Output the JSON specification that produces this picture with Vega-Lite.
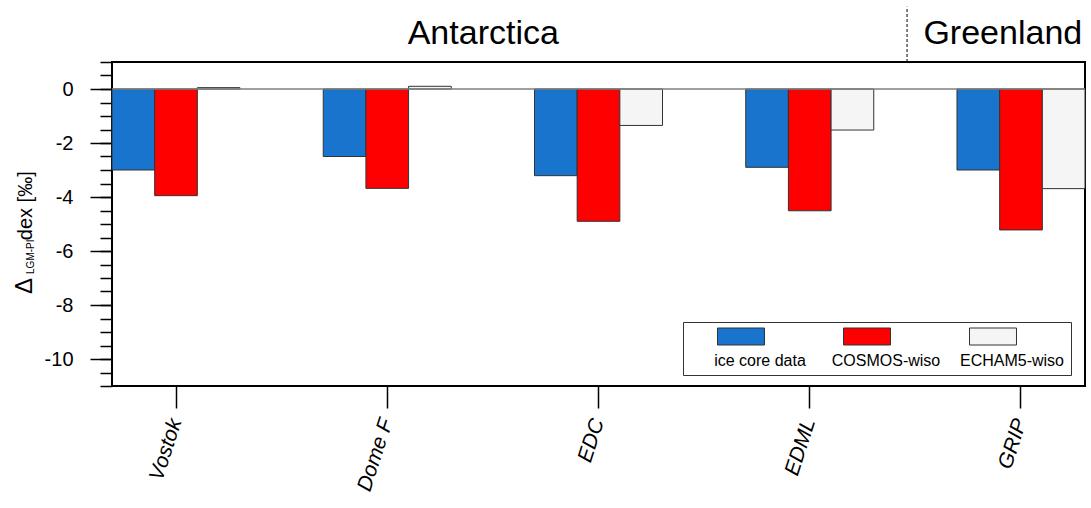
{
  "$schema": "https://vega.github.io/schema/vega-lite/v6.json",
  "width": 973,
  "height": 324,
  "autosize": {"type": "none"},
  "padding": {"left": 112, "top": 62, "right": 6, "bottom": 122},
  "background": "white",
  "config": {
    "font": "Liberation Sans",
    "view": {"stroke": "#000", "strokeWidth": 2},
    "axis": {"grid": false, "domain": false, "tickColor": "#000", "labelColor": "#000", "tickWidth": 1.5, "labelFont": "Liberation Sans"}
  },
  "datasets": {
    "bars": [
      {"site": "Vostok", "model": "ice core data", "value": -3.0},
      {"site": "Vostok", "model": "COSMOS-wiso", "value": -3.95},
      {"site": "Vostok", "model": "ECHAM5-wiso", "value": 0.05},
      {"site": "Dome F", "model": "ice core data", "value": -2.5},
      {"site": "Dome F", "model": "COSMOS-wiso", "value": -3.68},
      {"site": "Dome F", "model": "ECHAM5-wiso", "value": 0.1},
      {"site": "EDC", "model": "ice core data", "value": -3.21},
      {"site": "EDC", "model": "COSMOS-wiso", "value": -4.9},
      {"site": "EDC", "model": "ECHAM5-wiso", "value": -1.35},
      {"site": "EDML", "model": "ice core data", "value": -2.9},
      {"site": "EDML", "model": "COSMOS-wiso", "value": -4.51},
      {"site": "EDML", "model": "ECHAM5-wiso", "value": -1.52},
      {"site": "GRIP", "model": "ice core data", "value": -3.0},
      {"site": "GRIP", "model": "COSMOS-wiso", "value": -5.22},
      {"site": "GRIP", "model": "ECHAM5-wiso", "value": -3.69}
    ]
  },
  "layer": [
    {
      "data": {"name": "bars"},
      "mark": {"type": "bar", "stroke": "#333", "strokeWidth": 1},
      "encoding": {
        "x": {
          "field": "site", "type": "nominal",
          "scale": {"domain": ["Vostok", "Dome F", "EDC", "EDML", "GRIP"], "paddingInner": 0.394, "paddingOuter": 0},
          "axis": {"title": null, "labelAngle": -72, "labelFontSize": 21, "labelFontStyle": "italic", "tickSize": 22, "labelPadding": 11}
        },
        "xOffset": {
          "field": "model", "type": "nominal",
          "scale": {"domain": ["ice core data", "COSMOS-wiso", "ECHAM5-wiso"], "paddingInner": 0, "paddingOuter": 0}
        },
        "y": {
          "field": "value", "type": "quantitative",
          "scale": {"domain": [-11, 1], "nice": false, "zero": false},
          "axis": {"orient": "left", "title": null, "labels": false, "tickSize": 12,
            "values": [-11, -10.5, -10, -9.5, -9, -8.5, -8, -7.5, -7, -6.5, -6, -5.5, -5, -4.5, -4, -3.5, -3, -2.5, -2, -1.5, -1, -0.5, 0, 0.5, 1]}
        },
        "color": {
          "field": "model", "type": "nominal",
          "scale": {"domain": ["ice core data", "COSMOS-wiso", "ECHAM5-wiso"], "range": ["#1874CD", "#FF0000", "#F5F5F5"]},
          "legend": {
            "orient": "none", "legendX": 571, "legendY": 260,
            "direction": "horizontal", "columns": 3, "title": null,
            "symbolType": "M-0.723,-1.015H0.723V-0.492H-0.723Z", "symbolSize": 4225,
            "symbolStrokeColor": "#333", "symbolStrokeWidth": 1, "symbolOpacity": 1,
            "symbolOffset": 19,
            "labelAlign": "center", "labelOffset": -14, "labelFontSize": 16, "labelColor": "#000",
            "strokeColor": "#333", "fillColor": "white", "padding": 6,
            "gridAlign": "all", "columnPadding": 0
          }
        }
      }
    },
    {
      "data": {"values": [{"zero": 0}]},
      "mark": {"type": "rule", "color": "#7f7f7f", "strokeWidth": 1.5},
      "encoding": {
        "y": {
          "field": "zero", "type": "quantitative",
          "scale": {"domain": [-11, 1], "nice": false, "zero": false},
          "axis": {"orient": "left", "title": null, "values": [-10, -8, -6, -4, -2, 0], "tickSize": 22, "labelFontSize": 20, "labelPadding": 17, "labelExpr": "'' + datum.value"}
        }
      }
    },
    {
      "data": {"values": [{"divider": "Antarctica | Greenland"}]},
      "mark": {"type": "rule", "color": "#000", "strokeWidth": 1, "strokeDash": [3, 2]},
      "encoding": {
        "x": {"datum": "GRIP", "bandPosition": -0.39, "axis": null},
        "y": {"datum": 1, "axis": null},
        "y2": {"datum": 3.05}
      }
    },
    {
      "data": {"values": [{"region": "Antarctica"}]},
      "mark": {"type": "text", "fontSize": 34, "align": "center", "baseline": "alphabetic", "color": "#000"},
      "encoding": {
        "x": {"datum": "EDC", "bandPosition": -0.4, "axis": null},
        "y": {"datum": 1.68, "axis": null},
        "text": {"field": "region"}
      }
    },
    {
      "data": {"values": [{"region": "Greenland"}]},
      "mark": {"type": "text", "fontSize": 34, "align": "center", "baseline": "alphabetic", "color": "#000"},
      "encoding": {
        "x": {"datum": "GRIP", "bandPosition": 0.358, "axis": null},
        "y": {"datum": 1.68, "axis": null},
        "text": {"field": "region"}
      }
    },
    {
      "data": {"values": [{"part": "Δ"}]},
      "mark": {"type": "text", "fontSize": 24, "angle": 270, "align": "left", "baseline": "alphabetic", "color": "#000"},
      "encoding": {
        "x": {"datum": "Vostok", "bandPosition": -0.625, "axis": null},
        "y": {"datum": -7.59, "axis": null},
        "text": {"field": "part"}
      }
    },
    {
      "data": {"values": [{"part": "LGM-PI"}]},
      "mark": {"type": "text", "fontSize": 10, "angle": 270, "align": "left", "baseline": "alphabetic", "color": "#000"},
      "encoding": {
        "x": {"datum": "Vostok", "bandPosition": -0.612, "axis": null},
        "y": {"datum": -6.85, "axis": null},
        "text": {"field": "part"}
      }
    },
    {
      "data": {"values": [{"part": "dex [‰]"}]},
      "mark": {"type": "text", "fontSize": 20, "angle": 270, "align": "left", "baseline": "alphabetic", "color": "#000"},
      "encoding": {
        "x": {"datum": "Vostok", "bandPosition": -0.625, "axis": null},
        "y": {"datum": -5.6, "axis": null},
        "text": {"field": "part"}
      }
    }
  ],
  "resolve": {"axis": {"x": "independent", "y": "independent"}}
}
